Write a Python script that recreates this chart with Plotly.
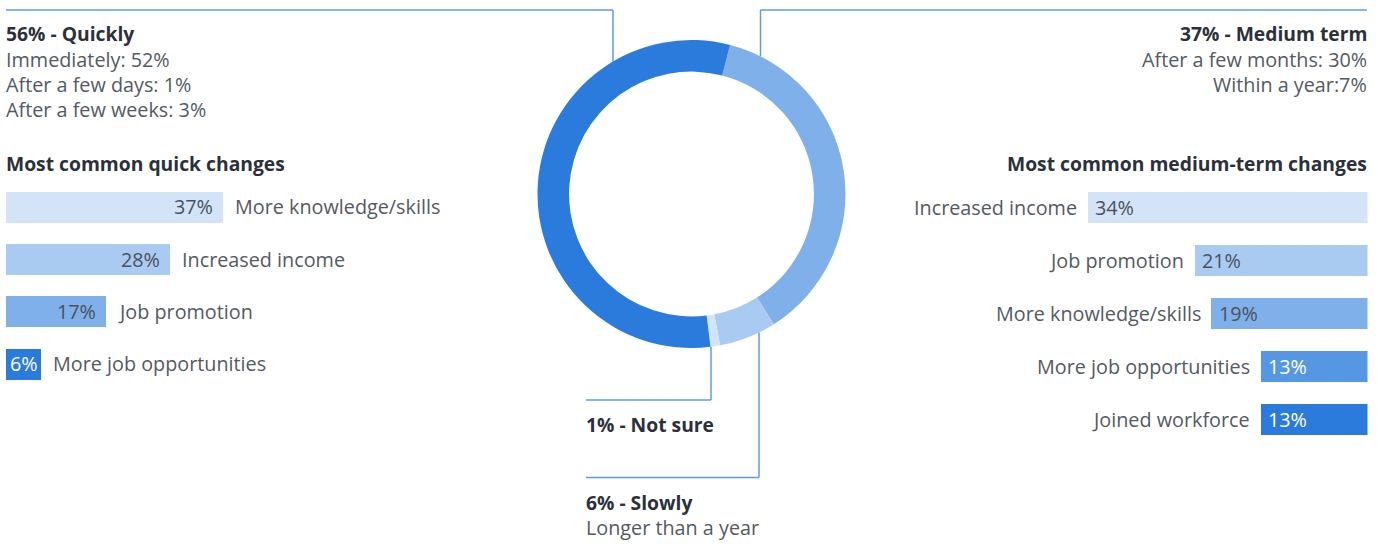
import plotly.graph_objects as go

# ---- data -------------------------------------------------------------
speed_labels = ["Medium term", "Slowly", "Not sure", "Quickly"]
speed_values = [37, 6, 1, 56]
speed_colors = ["#7fb0ea", "#a9caf1", "#d3e4f8", "#2a7bdb"]

quick_detail = ["Immediately: 52%", "After a few days: 1%", "After a few weeks: 3%"]
medium_detail = ["After a few months: 30%", "Within a year:7%"]
slow_detail = ["Longer than a year"]

quick_cats = ["More knowledge/skills", "Increased income", "Job promotion",
              "More job opportunities"]
quick_vals = [37, 28, 17, 6]
quick_colors = ["#d3e4f8", "#a9caf1", "#7fb0ea", "#2a7bdb"]
quick_text = ["#4b525c", "#4b525c", "#4b525c", "#ffffff"]

medium_cats = ["Increased income", "Job promotion", "More knowledge/skills",
               "More job opportunities", "Joined workforce"]
medium_vals = [34, 21, 19, 13, 13]
medium_colors = ["#d3e4f8", "#a9caf1", "#7fb0ea", "#5597e3", "#2a7bdb"]
medium_text = ["#4b525c", "#4b525c", "#4b525c", "#ffffff", "#ffffff"]

# ---- canvas helpers ---------------------------------------------------
W, H = 1378, 551
FONT = "Open Sans"
FS = 19.8      # regular text
FB = 19.3      # bold headings
DARK = "#2b313a"
GREY = "#535a63"
LINE = "#5c9ce6"


def px(x):
    return x / W


def py(y):
    return 1 - y / H


# donut geometry (pixels)
CX, CY, R = 691.5, 194.0, 154.0

fig = go.Figure()

fig.add_trace(go.Pie(
    labels=speed_labels, values=speed_values, sort=False,
    direction="clockwise", rotation=14.5, hole=0.795,
    marker=dict(colors=speed_colors, line=dict(width=0)),
    textinfo="none", hoverinfo="label+percent", showlegend=False,
    domain=dict(x=[px(CX - R), px(CX + R)], y=[py(CY + R), py(CY - R)]),
))

# left: quick changes
fig.add_trace(go.Bar(
    x=quick_vals, y=quick_cats, orientation="h", width=0.593,
    marker=dict(color=quick_colors, line=dict(width=0)),
    xaxis="x", yaxis="y", showlegend=False, hoverinfo="x+y",
))

# right: medium-term changes (bars grow leftwards)
fig.add_trace(go.Bar(
    x=medium_vals, y=medium_cats, orientation="h", width=0.585,
    marker=dict(color=medium_colors, line=dict(width=0)),
    xaxis="x2", yaxis="y2", showlegend=False, hoverinfo="x+y",
))

hidden = dict(showgrid=False, zeroline=False, showticklabels=False,
              showline=False, ticks="", fixedrange=True)

L_SCALE = 5.86  # px per percent
R_SCALE = 8.25
fig.update_layout(
    xaxis=dict(domain=[px(6), px(6 + 40 * L_SCALE)], range=[0, 40], **hidden),
    yaxis=dict(domain=[py(390), py(180.8)], range=[3.5, -0.5],
               type="category", categoryarray=quick_cats, anchor="x", **hidden),
    xaxis2=dict(domain=[px(1367.5 - 40 * R_SCALE), px(1367.5)], range=[40, 0],
                anchor="y2", **hidden),
    yaxis2=dict(domain=[py(445.5), py(180.5)], range=[4.5, -0.5],
                type="category", categoryarray=medium_cats, anchor="x2", **hidden),
)

ann = []


def text(x, y, s, bold=False, anchor="left"):
    dx = -2 if anchor == "left" else 2
    ann.append(dict(
        x=px(x + dx), y=py(y), xref="paper", yref="paper", showarrow=False,
        text=f"<b>{s}</b>" if bold else s, xanchor=anchor, yanchor="middle",
        font=dict(family=FONT, size=FB if bold else FS,
                  color=DARK if bold else GREY),
    ))


# slice headings and breakdowns
text(6, 34, f"{speed_values[3]}% - {speed_labels[3]}", bold=True)
for i, s in enumerate(quick_detail):
    text(6, 59 + 25 * i, s)
text(1367, 34, f"{speed_values[0]}% - {speed_labels[0]}", bold=True, anchor="right")
for i, s in enumerate(medium_detail):
    text(1367, 59 + 25 * i, s, anchor="right")
text(586, 424, f"{speed_values[2]}% - {speed_labels[2]}", bold=True)
text(586, 502, f"{speed_values[1]}% - {speed_labels[1]}", bold=True)
text(586, 527, slow_detail[0])

text(6, 163, "Most common quick changes", bold=True)
text(1367, 163, "Most common medium-term changes", bold=True, anchor="right")

# bar value + category labels
for c, v, tc in zip(quick_cats, quick_vals, quick_text):
    if v * L_SCALE < 50:
        # short bar: centre the value in it
        ann.append(dict(x=v / 2, y=c, xref="x", yref="y", showarrow=False,
                        text=f"{v}%", xanchor="center",
                        font=dict(family=FONT, size=FS, color=tc)))
    else:
        ann.append(dict(x=v, y=c, xref="x", yref="y", showarrow=False,
                        text=f"{v}%", xanchor="right", xshift=-8,
                        font=dict(family=FONT, size=FS, color=tc)))
    ann.append(dict(x=v, y=c, xref="x", yref="y", showarrow=False,
                    text=c, xanchor="left", xshift=10,
                    font=dict(family=FONT, size=FS, color=GREY)))
for c, v, tc in zip(medium_cats, medium_vals, medium_text):
    ann.append(dict(x=v, y=c, xref="x2", yref="y2", showarrow=False,
                    text=f"{v}%", xanchor="left", xshift=6,
                    font=dict(family=FONT, size=FS, color=tc)))
    ann.append(dict(x=v, y=c, xref="x2", yref="y2", showarrow=False,
                    text=c, xanchor="right", xshift=-8,
                    font=dict(family=FONT, size=FS, color=GREY)))

fig.update_layout(annotations=ann)

# leader lines from the ring to the headings
def ring_y(x, top=True):
    dy = (R * R - (x - CX) ** 2) ** 0.5
    return CY - dy if top else CY + dy


def seg(x0, y0, x1, y1):
    return dict(type="line", xref="paper", yref="paper",
                x0=px(x0), y0=py(y0), x1=px(x1), y1=py(y1),
                line=dict(color=LINE, width=1.5))


shapes = [
    seg(6, 10, 613, 10), seg(613, 10, 613, ring_y(613)),
    seg(760.5, 10, 1367, 10), seg(760.5, 10, 760.5, ring_y(760.5)),
    seg(711, ring_y(711, False), 711, 400), seg(586, 400, 711, 400),
    seg(759, ring_y(759, False), 759, 477.5), seg(586, 477.5, 759, 477.5),
]
fig.update_layout(shapes=shapes)

fig.update_layout(
    width=W, height=H, margin=dict(l=0, r=0, t=0, b=0),
    paper_bgcolor="white", plot_bgcolor="white", bargap=0,
    font=dict(family=FONT),
)

fig.write_html("out.html", config=dict(displayModeBar=False))
